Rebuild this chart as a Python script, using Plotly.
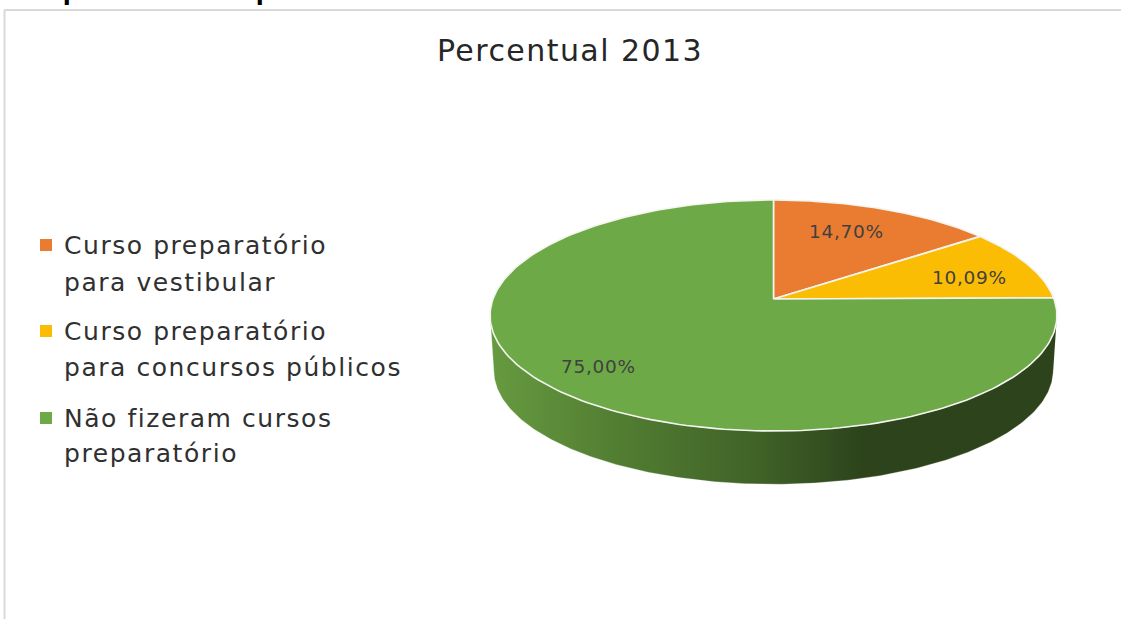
import numpy as np
import plotly.graph_objects as go

WIDTH, HEIGHT = 1121, 619

CHART_TITLE = "Percentual 2013"
HEADING = "Frequentou ou frequentou"
CATEGORIES = ["Curso preparatório para vestibular",
              "Curso preparatório para concursos públicos",
              "Não fizeram cursos preparatório"]
LEGEND_LINES = [["Curso preparatório", "para vestibular"],
                ["Curso preparatório", "para concursos públicos"],
                ["Não fizeram cursos", "preparatório"]]
PERCENTAGES = [14.70, 10.09, 75.00]
SLICE_COLORS = ["#EA7C32", "#FBBD04", "#6DAA47"]
SIDE_STOPS = [[0.0, "#679A40"], [0.22, "#527E32"], [0.48, "#3F6127"],
              [0.66, "#2C431B"], [1.0, "#2C431B"]]
TEXT_COLOR = "#404040"
FONT = "DejaVu Sans"

# Projection of the tilted disc: centre on screen, half-axes and perspective.
CX, CY = 773.5, 299.0
HALF_W, HALF_H, PERSPECTIVE = 280.5, 113.14, 1 / 7
# The rim below the top face is slightly smaller and lower.
RIM_SCALE, RIM_CY = 0.987, 354.0


def project(theta, scale=1.0, cy=CY):
    """Screen position of an angle on the disc, clockwise from twelve o'clock."""
    u, v = np.sin(theta), -np.cos(theta)
    w = 1 - PERSPECTIVE * v
    return CX + scale * HALF_W * u / w, cy + scale * HALF_H * v / w


def spaced(text, px):
    """Wrap text in a span with extra tracking."""
    return f'<span style="letter-spacing:{px}px">{text}</span>'


fig = go.Figure()

# Side wall: the front arc of the top face joined to the arc of the lower rim.
start = np.pi - np.arccos(PERSPECTIVE)
arc = np.linspace(start, 2 * np.pi - start, 240)
top_x, top_y = project(arc)
rim_x, rim_y = project(arc[::-1], RIM_SCALE, RIM_CY)
fig.add_trace(go.Scatter(
    x=np.r_[top_x, rim_x], y=np.r_[top_y, rim_y],
    mode="lines", fill="toself", line=dict(width=0.6, color="rgba(255,255,255,0.5)"),
    fillgradient=dict(type="horizontal", colorscale=SIDE_STOPS),
    hoverinfo="skip", showlegend=False,
))

# Top face: one wedge per category, sized by its share of the total.
total = sum(PERCENTAGES)
edges = np.cumsum([0] + PERCENTAGES) / total * 2 * np.pi
for i, name in enumerate(CATEGORIES):
    theta = np.linspace(edges[i], edges[i + 1], 200)
    x, y = project(theta)
    fig.add_trace(go.Scatter(
        x=np.r_[CX, x, CX], y=np.r_[CY, y, CY],
        mode="lines", fill="toself", fillcolor=SLICE_COLORS[i],
        line=dict(color="#F4F4F0", width=1.6),
        name=name, hoverinfo="name", showlegend=False,
    ))

# Value labels on the wedges.
label_positions = [(846, 231), (969, 277), (598, 366)]
annotations = []
for value, (lx, ly) in zip(PERCENTAGES, label_positions):
    annotations.append(dict(
        x=lx, y=ly, xref="x", yref="y", showarrow=False,
        text=spaced(f"{value:.2f}%".replace(".", ","), 0.7),
        font=dict(family=FONT, size=18.5, color=TEXT_COLOR),
    ))

# Key: a square swatch and two lines of text per category.
key_x, text_x = 46, 62
key_rows = [(245, 282), (331, 367), (418, 453)]
fig.add_trace(go.Scatter(
    x=[key_x] * 3, y=[r[0] for r in key_rows], mode="markers",
    marker=dict(symbol="square", size=12, color=SLICE_COLORS),
    hoverinfo="skip", showlegend=False,
))
for lines, rows in zip(LEGEND_LINES, key_rows):
    for line, row in zip(lines, rows):
        annotations.append(dict(
            x=text_x, y=row, xref="x", yref="y", xanchor="left", showarrow=False,
            text=spaced(line, 1.55), font=dict(family=FONT, size=25, color="#303030"),
        ))

# Heading of the surrounding page, cut off by the top edge.
annotations.append(dict(
    x=11 / WIDTH, y=1, xref="paper", yref="paper", xanchor="left", yanchor="bottom",
    yshift=-7, showarrow=False, text=f"<b>{HEADING}</b>",
    font=dict(family=FONT, size=23, color="#000000"),
))

fig.update_layout(
    width=WIDTH, height=HEIGHT,
    margin=dict(l=0, r=0, t=0, b=0),
    paper_bgcolor="white", plot_bgcolor="white",
    title=dict(
        text=spaced(CHART_TITLE, 1.45), x=570 / WIDTH, y=1 - 50 / HEIGHT,
        xanchor="center", yanchor="middle", xref="paper", yref="paper",
        font=dict(family=FONT, size=30, color="#262626"),
    ),
    xaxis=dict(range=[0, WIDTH], visible=False, fixedrange=True),
    yaxis=dict(range=[HEIGHT, 0], visible=False, fixedrange=True),
    annotations=annotations,
    shapes=[
        # Chart frame; its right and bottom sides fall outside the page.
        dict(type="line", xref="x", yref="y", x0=4, x1=WIDTH, y0=10, y1=10,
             line=dict(color="#D9D9D9", width=2)),
        dict(type="line", xref="x", yref="y", x0=4.5, x1=4.5, y0=10, y1=HEIGHT,
             line=dict(color="#D9D9D9", width=2)),
    ],
)

fig.write_html("out.html", config=dict(displayModeBar=False))
